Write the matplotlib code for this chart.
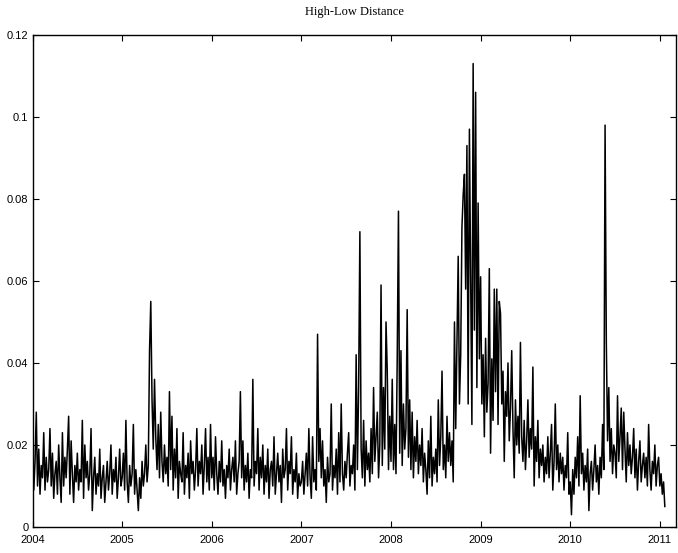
import matplotlib
matplotlib.use('Agg')
import matplotlib.pyplot as plt
import numpy as np

# high-low distance, 6 samples per month (72 per year)
v2004 = [0.013, 0.009, 0.016, 0.028, 0.010, 0.019, 0.008, 0.015, 0.012, 0.023, 0.009, 0.017,
         0.011, 0.014, 0.024, 0.010, 0.018, 0.007, 0.013, 0.016, 0.008, 0.020, 0.012, 0.006,
         0.023, 0.010, 0.017, 0.012, 0.019, 0.027, 0.008, 0.021, 0.013, 0.006, 0.015, 0.011,
         0.018, 0.009, 0.014, 0.011, 0.026, 0.007, 0.020, 0.012, 0.016, 0.009, 0.013, 0.024,
         0.004, 0.012, 0.017, 0.008, 0.013, 0.010, 0.019, 0.007, 0.012, 0.015, 0.006, 0.011,
         0.016, 0.009, 0.013, 0.020, 0.008, 0.014, 0.011, 0.017, 0.007, 0.012, 0.019, 0.010]
v2005 = [0.012, 0.018, 0.009, 0.026, 0.011, 0.006, 0.015, 0.010, 0.013, 0.025, 0.008, 0.014,
         0.009, 0.004, 0.012, 0.007, 0.016, 0.010, 0.013, 0.020, 0.011, 0.015, 0.043, 0.055,
         0.031, 0.019, 0.036, 0.022, 0.014, 0.025, 0.012, 0.028, 0.016, 0.011, 0.020, 0.013,
         0.017, 0.010, 0.033, 0.014, 0.027, 0.009, 0.019, 0.012, 0.024, 0.007, 0.016, 0.013,
         0.011, 0.023, 0.008, 0.015, 0.012, 0.018, 0.007, 0.021, 0.013, 0.016, 0.009, 0.014,
         0.024, 0.010, 0.016, 0.013, 0.020, 0.008, 0.015, 0.024, 0.011, 0.017, 0.009, 0.025]
v2006 = [0.012, 0.017, 0.009, 0.022, 0.013, 0.008, 0.016, 0.011, 0.021, 0.010, 0.014, 0.007,
         0.015, 0.012, 0.019, 0.009, 0.014, 0.017, 0.011, 0.021, 0.008, 0.013, 0.016, 0.033,
         0.012, 0.021, 0.009, 0.015, 0.011, 0.018, 0.007, 0.014, 0.012, 0.036, 0.010, 0.016,
         0.013, 0.024, 0.009, 0.017, 0.012, 0.020, 0.008, 0.015, 0.011, 0.019, 0.007, 0.014,
         0.016, 0.010, 0.022, 0.008, 0.013, 0.018, 0.011, 0.015, 0.006, 0.019, 0.012, 0.014,
         0.024, 0.009, 0.016, 0.013, 0.022, 0.008, 0.014, 0.011, 0.018, 0.007, 0.013, 0.010]
v2007 = [0.011, 0.016, 0.008, 0.013, 0.018, 0.010, 0.024, 0.012, 0.007, 0.022, 0.011, 0.014,
         0.009, 0.047, 0.016, 0.024, 0.012, 0.021, 0.010, 0.014, 0.006, 0.017, 0.011, 0.013,
         0.030, 0.009, 0.015, 0.012, 0.019, 0.008, 0.023, 0.011, 0.030, 0.013, 0.009, 0.016,
         0.012, 0.018, 0.023, 0.010, 0.015, 0.013, 0.020, 0.009, 0.042, 0.014, 0.034, 0.072,
         0.019, 0.012, 0.026, 0.010, 0.021, 0.014, 0.018, 0.011, 0.024, 0.013, 0.034, 0.016,
         0.022, 0.028, 0.012, 0.020, 0.059, 0.015, 0.034, 0.019, 0.050, 0.038, 0.014, 0.027]
v2008 = [0.016, 0.036, 0.014, 0.025, 0.013, 0.041, 0.077, 0.018, 0.043, 0.015, 0.030, 0.019,
         0.024, 0.053, 0.017, 0.031, 0.014, 0.028, 0.012, 0.022, 0.016, 0.026, 0.013, 0.020,
         0.015, 0.024, 0.011, 0.018, 0.014, 0.008, 0.021, 0.012, 0.027, 0.010, 0.017, 0.013,
         0.019, 0.011, 0.031, 0.015, 0.022, 0.038, 0.014, 0.020, 0.012, 0.027, 0.016, 0.023,
         0.015, 0.021, 0.011, 0.050, 0.024, 0.045, 0.066, 0.030, 0.042, 0.073, 0.081, 0.086,
         0.058, 0.093, 0.030, 0.097, 0.062, 0.025, 0.113, 0.048, 0.106, 0.034, 0.079, 0.041]
v2009 = [0.061, 0.030, 0.042, 0.022, 0.046, 0.028, 0.035, 0.063, 0.018, 0.041, 0.026, 0.058,
         0.033, 0.058, 0.025, 0.055, 0.052, 0.030, 0.038, 0.016, 0.033, 0.027, 0.040, 0.021,
         0.029, 0.043, 0.024, 0.012, 0.031, 0.020, 0.027, 0.018, 0.045, 0.022, 0.016, 0.026,
         0.014, 0.021, 0.031, 0.017, 0.024, 0.019, 0.039, 0.010, 0.022, 0.016, 0.026, 0.012,
         0.019, 0.015, 0.020, 0.011, 0.017, 0.013, 0.022, 0.012, 0.018, 0.025, 0.009, 0.016,
         0.030, 0.014, 0.020, 0.011, 0.018, 0.013, 0.017, 0.009, 0.015, 0.012, 0.023, 0.008]
v2010 = [0.011, 0.003, 0.014, 0.008, 0.017, 0.012, 0.022, 0.010, 0.032, 0.013, 0.018, 0.009,
         0.015, 0.011, 0.019, 0.004, 0.013, 0.016, 0.009, 0.014, 0.020, 0.011, 0.015, 0.008,
         0.017, 0.012, 0.025, 0.014, 0.098, 0.045, 0.021, 0.034, 0.016, 0.024, 0.013, 0.020,
         0.018, 0.012, 0.032, 0.016, 0.022, 0.029, 0.014, 0.028, 0.019, 0.011, 0.023, 0.015,
         0.020, 0.013, 0.017, 0.024, 0.012, 0.019, 0.009, 0.016, 0.021, 0.011, 0.015, 0.018,
         0.012, 0.017, 0.010, 0.025, 0.014, 0.009, 0.016, 0.013, 0.020, 0.010, 0.015, 0.017]
v2011 = [0.010, 0.013, 0.008, 0.011, 0.005]

yticks = [0, 0.02, 0.04, 0.06, 0.08, 0.1, 0.12]
ytick_labels = ['0', '0.02', '0.04', '0.06', '0.08', '0.1', '0.12']
xticks = [2004, 2005, 2006, 2007, 2008, 2009, 2010, 2011]

vals = np.array(v2004 + v2005 + v2006 + v2007 + v2008 + v2009 + v2010 + v2011)
t = 2004 + np.arange(len(vals)) / 72.0

plt.rcParams['font.family'] = ['Liberation Sans', 'DejaVu Sans']

fig = plt.figure(figsize=(6.78, 5.53), dpi=100)
ax = fig.add_axes([0.048, 0.047, 0.949, 0.89])
ax.plot(t, vals, color='k', linewidth=1.1)

ax.set_xlim(2004, 2011.18)
ax.set_ylim(0, 0.12)
ax.set_xticks(xticks)
ax.set_xticklabels([str(x) for x in xticks])
ax.set_yticks(yticks)
ax.set_yticklabels(ytick_labels)
ax.tick_params(direction='in', length=4, width=0.8, top=True, right=True,
               labelsize=8)
ax.tick_params(axis='x', pad=6)
ax.tick_params(axis='y', pad=3)
for s in ax.spines.values():
    s.set_linewidth(1.0)

ax.set_title('High-Low Distance', fontsize=9, pad=14,
             family=['Liberation Serif', 'DejaVu Serif'])

fig.savefig('out.png', dpi=100)
